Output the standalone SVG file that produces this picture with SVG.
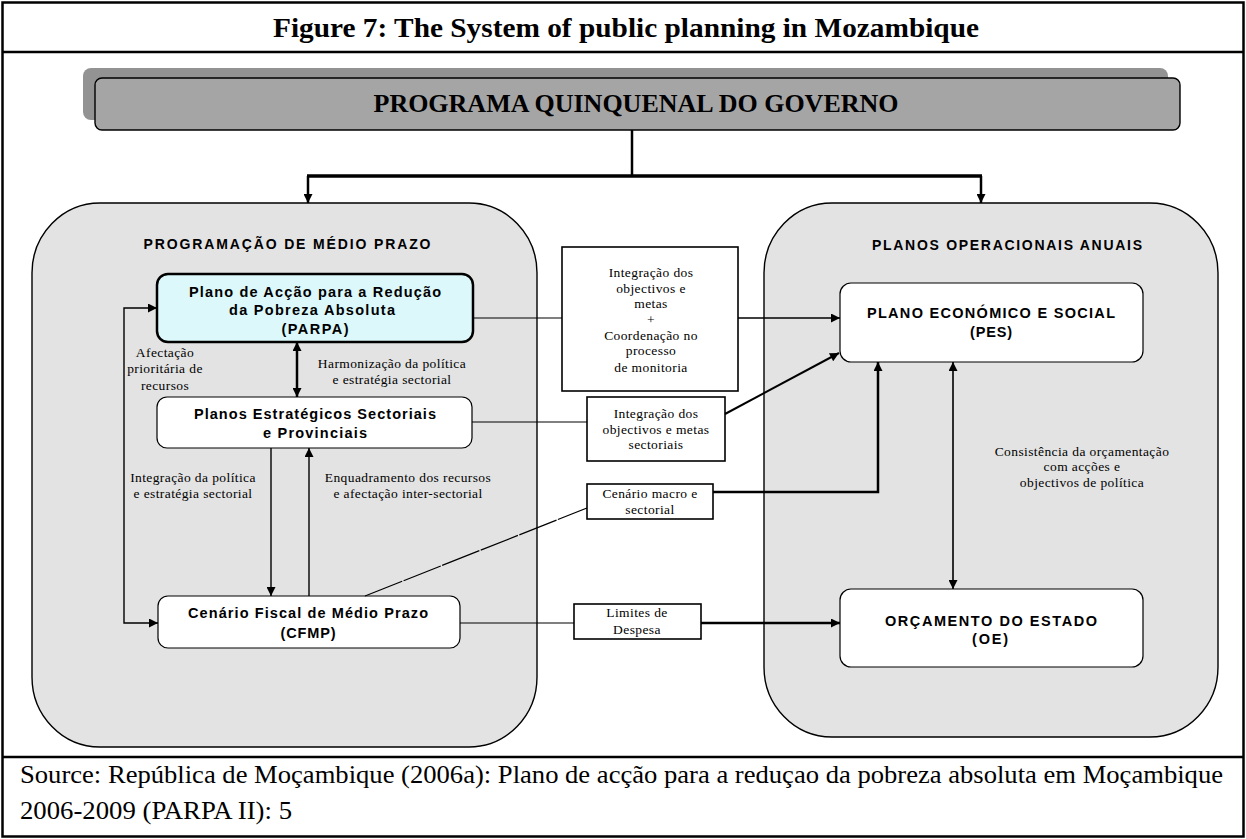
<svg xmlns="http://www.w3.org/2000/svg" width="1246" height="839" viewBox="0 0 1246 839">
  <style>
    .frame { fill: none; stroke: #000; stroke-width: 2.5; }
    .panel { fill: #e3e3e3; stroke: #000; stroke-width: 1.4; }
    .node { fill: #fff; stroke: #000; stroke-width: 1.2; }
    .note { fill: #fff; stroke: #000; stroke-width: 1.6; }
    .sans { font-family: "Liberation Sans", Arial, sans-serif; font-weight: bold; fill: #000; text-anchor: middle; }
    .hdr { font-size: 14px; }
    .lbl { font-size: 14.5px; }
    .ser { font-family: "Liberation Serif", "Times New Roman", serif; fill: #000; text-anchor: middle; font-size: 13.5px; letter-spacing: 0.4px; }
    .ln { fill: none; stroke: #000; }
  </style>
  <defs>
    <marker id="arr" viewBox="0 0 10 10" refX="10" refY="5" markerWidth="11" markerHeight="9" markerUnits="userSpaceOnUse" orient="auto-start-reverse">
      <path d="M0,0 L10,5 L0,10 z" fill="#000"/>
    </marker>
  </defs>

  <rect width="1246" height="839" fill="#fff"/>

  <!-- outer frame, title row and source row -->
  <rect class="frame" x="2.5" y="2.5" width="1241" height="834"/>
  <line class="frame" x1="2.5" y1="52" x2="1243.5" y2="52"/>
  <line class="frame" x1="2.5" y1="757" x2="1243.5" y2="757"/>
  <text x="626" y="37" font-family="'Liberation Serif', 'Times New Roman', serif" font-weight="bold" font-size="27" text-anchor="middle" textLength="706" lengthAdjust="spacingAndGlyphs">Figure 7: The System of public planning in Mozambique</text>
  <text x="20" y="783" font-family="'Liberation Serif', 'Times New Roman', serif" font-size="25" textLength="1203" lengthAdjust="spacingAndGlyphs">Source: República de Moçambique (2006a): Plano de acção para a reduçao da pobreza absoluta em Moçambique</text>
  <text x="20" y="819" font-family="'Liberation Serif', 'Times New Roman', serif" font-size="25" textLength="272" lengthAdjust="spacingAndGlyphs">2006-2009 (PARPA II): 5</text>

  <!-- top programme box -->
  <g id="programa-quinquenal">
    <rect x="83" y="68" width="1085" height="52" rx="8" fill="#939393"/>
    <rect x="95" y="78" width="1085" height="52" rx="7" fill="#a5a5a5" stroke="#000" stroke-width="1.4"/>
    <text x="636" y="112" font-family="'Liberation Serif', 'Times New Roman', serif" font-weight="bold" font-size="25" text-anchor="middle" textLength="525" lengthAdjust="spacingAndGlyphs">PROGRAMA QUINQUENAL DO GOVERNO</text>
  </g>

  <!-- panels -->
  <g id="programacao-medio-prazo">
    <rect class="panel" x="32" y="203" width="505" height="544" rx="68" ry="70"/>
    <text class="sans hdr" x="287" y="249" textLength="287" lengthAdjust="spacing">PROGRAMAÇÃO DE MÉDIO PRAZO</text>
  </g>
  <g id="planos-operacionais-anuais">
    <rect class="panel" x="764" y="203" width="454" height="534" rx="68" ry="70"/>
    <text class="sans hdr" x="1007" y="250" textLength="270" lengthAdjust="spacing">PLANOS OPERACIONAIS ANUAIS</text>
  </g>

  <!-- plan nodes -->
  <g id="parpa">
    <rect x="157" y="274" width="316" height="68" rx="11" fill="#dcf8fb" stroke="#000" stroke-width="2.5"/>
    <text class="sans lbl" x="315" y="297" textLength="252" lengthAdjust="spacing">Plano de Acção para a Redução</text>
    <text class="sans lbl" x="312" y="315" textLength="166" lengthAdjust="spacing">da Pobreza Absoluta</text>
    <text class="sans lbl" x="315" y="334" textLength="67" lengthAdjust="spacing">(PARPA)</text>
  </g>
  <g id="planos-estrategicos">
    <rect class="node" x="157" y="397" width="315" height="51" rx="10"/>
    <text class="sans lbl" x="315" y="419" textLength="242" lengthAdjust="spacing">Planos Estratégicos Sectoriais</text>
    <text class="sans lbl" x="315" y="438" textLength="104" lengthAdjust="spacing">e Provinciais</text>
  </g>
  <g id="cfmp">
    <rect class="node" x="158" y="596" width="302" height="52" rx="10"/>
    <text class="sans lbl" x="308" y="618" textLength="240" lengthAdjust="spacing">Cenário Fiscal de Médio Prazo</text>
    <text class="sans lbl" x="308" y="638" textLength="55" lengthAdjust="spacing">(CFMP)</text>
  </g>
  <g id="pes">
    <rect class="node" x="840" y="283" width="303" height="79" rx="11"/>
    <text class="sans lbl" x="991" y="318" textLength="248" lengthAdjust="spacing">PLANO ECONÓMICO E SOCIAL</text>
    <text class="sans lbl" x="991" y="337" textLength="42" lengthAdjust="spacing">(PES)</text>
  </g>
  <g id="oe">
    <rect class="node" x="840" y="589" width="303" height="78" rx="11"/>
    <text class="sans lbl" x="991" y="626" textLength="212" lengthAdjust="spacing">ORÇAMENTO DO ESTADO</text>
    <text class="sans lbl" x="990" y="644" textLength="36" lengthAdjust="spacing">(OE)</text>
  </g>

  <!-- intermediate note boxes -->
  <g id="integracao-monitoria">
    <rect class="note" x="562" y="247" width="176" height="144"/>
    <text class="ser" x="651" y="277">Integração dos</text>
    <text class="ser" x="651" y="293">objectivos e</text>
    <text class="ser" x="651" y="308">metas</text>
    <text class="ser" x="651" y="324">+</text>
    <text class="ser" x="651" y="340">Coordenação no</text>
    <text class="ser" x="651" y="355">processo</text>
    <text class="ser" x="651" y="372">de monitoria</text>
  </g>
  <g id="integracao-sectorial">
    <rect class="note" x="587" y="397" width="138" height="64"/>
    <text class="ser" x="656" y="418">Integração dos</text>
    <text class="ser" x="656" y="434">objectivos e metas</text>
    <text class="ser" x="656" y="449">sectoriais</text>
  </g>
  <g id="cenario-macro">
    <rect class="note" x="587" y="484" width="126" height="35"/>
    <text class="ser" x="650" y="498">Cenário macro e</text>
    <text class="ser" x="650" y="514">sectorial</text>
  </g>
  <g id="limites-despesa">
    <rect class="note" x="574" y="604" width="127" height="35"/>
    <text class="ser" x="637" y="617">Limites de</text>
    <text class="ser" x="637" y="634">Despesa</text>
  </g>

  <!-- edge labels -->
  <g id="edge-labels">
    <text class="ser" x="165" y="357">Afectação</text>
    <text class="ser" x="165" y="373">prioritária de</text>
    <text class="ser" x="165" y="390">recursos</text>
    <text class="ser" x="392" y="368">Harmonização da política</text>
    <text class="ser" x="392" y="384">e estratégia sectorial</text>
    <text class="ser" x="193" y="482">Integração da política</text>
    <text class="ser" x="193" y="498">e estratégia sectorial</text>
    <text class="ser" x="408" y="482">Enquadramento dos recursos</text>
    <text class="ser" x="408" y="498">e afectação inter-sectorial</text>
    <text class="ser" x="1082" y="456">Consistência da orçamentação</text>
    <text class="ser" x="1082" y="471">com acções e</text>
    <text class="ser" x="1082" y="487">objectivos de política</text>
  </g>

  <!-- connectors -->
  <g id="connectors">
    <line class="ln" x1="632" y1="130" x2="632" y2="176" stroke-width="2.5"/>
    <line class="ln" x1="307" y1="176" x2="982" y2="176" stroke-width="3.5"/>
    <line class="ln" x1="308" y1="176" x2="308" y2="203" stroke-width="2.5" marker-end="url(#arr)"/>
    <line class="ln" x1="981" y1="176" x2="981" y2="203" stroke-width="2.5" marker-end="url(#arr)"/>

    <path class="ln" d="M157,308 H124 V623 H158" stroke-width="1.4" marker-start="url(#arr)" marker-end="url(#arr)"/>
    <line class="ln" x1="297" y1="342" x2="297" y2="397" stroke-width="2.5" marker-start="url(#arr)" marker-end="url(#arr)"/>
    <line class="ln" x1="271" y1="448" x2="271" y2="596" stroke-width="1.4" marker-end="url(#arr)"/>
    <line class="ln" x1="309" y1="596" x2="309" y2="448" stroke-width="1.4" marker-end="url(#arr)"/>

    <line class="ln" x1="473" y1="318" x2="562" y2="318" stroke-width="1.2"/>
    <line class="ln" x1="738" y1="318" x2="840" y2="318" stroke-width="1.6" marker-end="url(#arr)"/>
    <line class="ln" x1="472" y1="422" x2="587" y2="422" stroke-width="1.2"/>
    <line class="ln" x1="725" y1="414" x2="839" y2="353" stroke-width="2" marker-end="url(#arr)"/>
    <line class="ln" x1="365" y1="596" x2="587" y2="508" stroke-width="1.2" stroke-dasharray="40 1.5"/>
    <path class="ln" d="M713,492 H878 V362" stroke-width="2.5" marker-end="url(#arr)"/>
    <line class="ln" x1="460" y1="623" x2="574" y2="623" stroke-width="1.2"/>
    <line class="ln" x1="701" y1="623" x2="840" y2="623" stroke-width="2.5" marker-end="url(#arr)"/>
    <line class="ln" x1="953" y1="362" x2="953" y2="589" stroke-width="1.6" marker-start="url(#arr)" marker-end="url(#arr)"/>
  </g>
</svg>
